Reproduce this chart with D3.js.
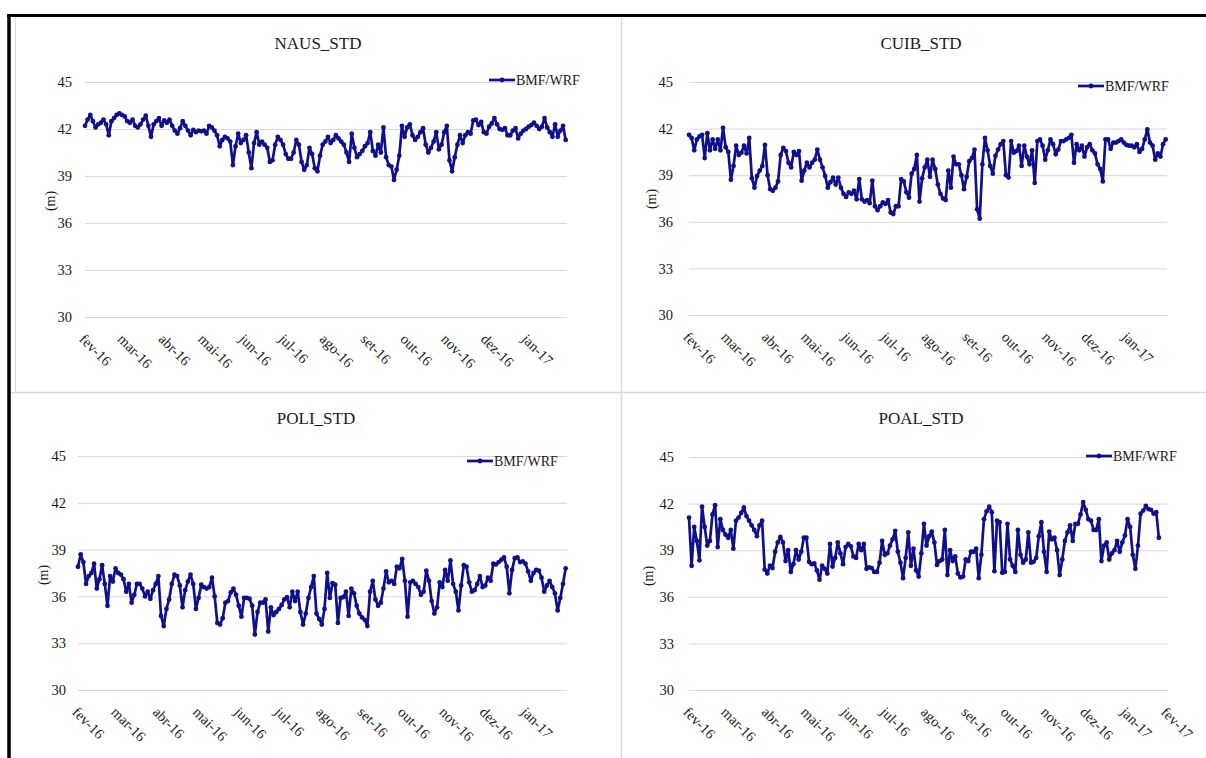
<!DOCTYPE html>
<html>
<head>
<meta charset="utf-8">
<script src="https://cdn.jsdelivr.net/npm/d3@7"></script>
<style>
  body { margin: 0; background: #fff; }
  svg { display: block; }
  text { font-family: "Liberation Serif", "Times New Roman", serif; fill: #1a1a1a; }
</style>
</head>
<body>
<svg id="chart" width="1206" height="758"></svg>
<script>
// Month abbreviations used for the x tick labels (pt-BR)
const monthAbbr = ["jan", "fev", "mar", "abr", "mai", "jun", "jul", "ago", "set", "out", "nov", "dez"];
const yTicks = [30, 33, 36, 39, 42, 45];
const seriesName = "BMF/WRF";
const firstDay = new Date(2016, 1, 1);   // series start, one value every 2 days
const stepDays = 2;

// STD (m) per station
const nausValues = [
  42.2, 42.6, 42.9, 42.5, 42.1, 42.3, 42.4, 42.6, 42.3, 41.6,
  42.5, 42.7, 42.9, 43.0, 42.9, 42.8, 42.5, 42.4, 42.6, 42.2,
  42.1, 42.3, 42.6, 42.85, 42.2, 41.5, 42.3, 42.5, 42.7, 42.2,
  42.55, 42.4, 42.6, 42.2, 41.9, 41.7, 42.05, 42.5, 42.2, 41.9,
  41.6, 41.95, 41.8, 41.9, 41.85, 41.9, 41.7, 42.2, 42.1, 41.9,
  41.6, 40.9, 41.3, 41.5, 41.4, 41.2, 39.7, 40.9, 41.7, 41.1,
  41.3, 41.6, 40.5, 39.5, 41.1, 41.8, 41.0, 41.2, 41.0, 40.8,
  39.9, 40.0, 41.0, 41.5, 41.3, 41.0, 40.4, 40.1, 40.1, 40.5,
  41.3, 41.0, 39.9, 39.4, 39.7, 40.8, 40.4, 39.5, 39.3, 40.3,
  41.0, 41.2, 41.5, 41.1, 41.3, 41.6, 41.4, 41.2, 41.0, 40.5,
  39.9, 41.7, 40.8, 40.2, 40.4, 40.6, 40.9, 41.1, 41.8, 40.6,
  40.3, 41.0, 40.5, 42.1, 40.2, 39.7, 39.6, 38.75, 39.4, 40.3,
  42.2, 41.5, 42.1, 42.3, 41.6, 41.3, 41.5, 41.8, 42.05, 41.0,
  40.5, 40.8, 41.2, 41.8, 40.7, 41.0, 41.8, 42.2, 40.0, 39.3,
  40.2, 41.0, 41.6, 41.1, 41.6, 41.8, 41.7, 42.55, 42.6, 42.25,
  42.45, 41.8, 41.7, 42.15, 42.35, 42.7, 42.3, 42.0, 41.95, 42.05,
  41.6, 41.6, 41.9, 42.05, 41.4, 41.7, 41.9, 42.0, 42.15, 42.25,
  42.4, 42.2, 42.0, 42.15, 42.7, 42.1, 41.8, 41.5, 42.3, 41.5,
  41.9, 42.2, 41.3
];

const cuibValues = [
  41.6, 41.4, 40.6, 41.3, 41.5, 41.6, 40.1, 41.7, 40.6, 41.3,
  40.7, 41.3, 40.6, 42.05, 40.8, 40.5, 38.7, 39.6, 40.9, 40.3,
  40.45, 40.9, 40.4, 41.4, 38.8, 38.2, 38.95, 39.3, 39.6, 40.95,
  39.0, 38.1, 38.0, 38.2, 38.6, 40.3, 40.75, 40.55, 39.8, 39.5,
  40.5, 40.3, 40.55, 38.65, 39.3, 39.8, 39.5, 39.8, 40.0, 40.65,
  40.0, 39.5, 38.95, 38.2, 38.55, 38.85, 38.4, 38.85, 38.2, 37.8,
  37.6, 37.9, 37.8, 38.0, 37.45, 38.75, 37.45, 37.3, 37.4, 37.2,
  38.65, 37.0, 36.75, 37.0, 37.25, 37.15, 37.4, 36.6, 36.5, 37.0,
  37.0, 38.75, 38.6, 37.9, 37.55, 39.1, 39.4, 40.3, 37.3, 38.8,
  39.5, 40.0, 38.9, 40.0, 39.4, 38.4, 37.8, 37.5, 37.4, 39.3,
  38.2, 40.2, 39.7, 39.7, 39.0, 38.1, 38.9, 39.9, 40.1, 40.65,
  36.8, 36.2, 39.7, 41.4, 40.6, 39.6, 39.1, 40.25, 40.65, 41.0,
  41.2, 39.0, 38.85, 41.2, 40.45, 40.55, 40.9, 39.6, 40.9, 40.2,
  39.7, 40.6, 38.5, 41.2, 41.3, 40.9, 40.0, 40.6, 41.3, 41.0,
  40.35, 40.65, 41.2, 41.2, 41.3, 41.4, 41.6, 39.8, 41.0, 40.6,
  40.9, 40.2, 40.8, 41.0, 40.6, 40.4, 39.7, 39.4, 38.6, 41.3,
  41.3, 40.7, 41.1, 41.1, 41.2, 41.3, 41.1, 40.95, 40.9, 40.9,
  40.8, 41.0, 40.5, 40.7, 41.3, 41.95, 41.1, 40.9, 40.0, 40.4,
  40.2, 41.0, 41.3
];

const poliValues = [
  37.9, 38.7, 38.2, 36.8, 37.3, 37.5, 38.1, 36.5, 37.1, 38.0,
  36.8, 35.4, 37.3, 36.95, 37.8, 37.5, 37.4, 37.1, 36.3, 36.8,
  35.6, 36.1, 36.8, 36.8, 36.5, 36.0, 36.3, 35.85, 36.4, 36.8,
  37.3, 34.75, 34.1, 35.2, 35.8, 36.8, 37.4, 37.3, 36.7, 35.3,
  36.4, 36.95, 37.4, 36.8, 35.2, 35.9, 36.75, 36.6, 36.5, 36.6,
  37.2, 36.0, 34.3, 34.2, 34.6, 35.6, 35.7, 36.25, 36.5, 36.1,
  35.4, 34.7, 35.9, 35.9, 35.85, 35.4, 33.55, 35.0, 35.6, 35.6,
  35.8, 33.75, 35.3, 34.8, 35.0, 35.2, 35.45, 35.8, 35.95, 35.3,
  36.3, 35.7, 36.3, 35.0, 34.2, 34.9, 35.9, 36.6, 37.3, 34.9,
  34.55, 34.2, 35.2, 37.5, 35.9, 36.85, 36.75, 34.3, 35.9, 35.95,
  36.3, 34.75, 36.5, 36.2, 35.4, 34.9, 34.65, 34.5, 34.1, 36.3,
  37.0, 35.8, 35.4, 35.6, 36.5, 37.6, 36.9, 37.0, 36.8, 37.9,
  37.8, 38.4, 37.0, 34.7, 36.9, 37.0, 36.8, 36.6, 36.1, 36.3,
  37.65, 37.0, 35.7, 34.9, 35.3, 36.9, 36.6, 37.7, 37.0, 38.3,
  36.8, 36.3, 35.1, 36.7, 38.0, 37.9, 36.9, 36.3, 36.4, 36.8,
  37.3, 36.6, 36.7, 37.2, 37.0, 38.1, 38.05, 38.2, 38.35, 38.5,
  37.9, 36.2, 37.7, 38.45, 38.5, 38.2, 38.25, 38.1, 37.6, 37.0,
  37.5, 37.7, 37.65, 37.2, 36.3, 36.7, 37.0, 36.6, 36.2, 35.1,
  35.9, 36.8, 37.8
];

const poalValues = [
  41.1, 38.0, 40.5, 39.6, 38.35, 41.8, 40.5, 39.3, 39.6, 41.3,
  41.9, 39.2, 41.0, 40.3, 40.0, 39.8, 40.3, 39.1, 40.9, 41.1,
  41.4, 41.75, 41.2, 40.9, 40.6, 40.3, 39.9, 40.6, 40.9, 37.75,
  37.5, 38.0, 37.85, 38.9, 39.5, 39.85, 39.5, 38.3, 39.0, 37.6,
  38.1, 39.0, 38.4, 38.9, 39.8, 39.8, 38.25, 38.1, 38.15, 37.7,
  37.1, 38.0, 37.8, 37.5, 39.4, 37.95, 38.5, 39.5, 38.8, 38.1,
  39.2, 39.4, 39.25, 38.6, 38.5, 39.4, 39.0, 39.4, 37.8, 37.9,
  37.85, 37.6, 37.6, 38.2, 39.6, 38.7, 38.8, 39.3, 39.7, 40.25,
  38.9, 38.2, 37.2, 38.5, 40.15, 38.0, 39.1, 37.7, 37.3, 38.8,
  40.7, 39.3, 39.9, 40.2, 39.5, 38.05, 38.3, 38.4, 40.3, 37.4,
  39.0, 38.3, 38.6, 37.5, 37.25, 37.3, 38.4, 38.3, 38.9, 38.9,
  39.1, 37.2, 38.7, 41.0, 41.5, 41.8, 41.45, 37.65, 40.9, 40.8,
  37.55, 37.6, 40.7, 38.4, 38.0, 37.6, 40.3, 38.7, 38.2, 38.4,
  40.15, 38.2, 38.25, 38.5, 39.9, 40.8, 38.9, 37.6, 40.2, 39.7,
  39.8, 39.0, 37.4, 38.4, 39.6, 40.15, 40.6, 39.6, 40.7, 40.7,
  41.3, 42.1, 41.6, 41.0, 40.9, 40.3, 40.3, 41.0, 38.3, 39.3,
  39.5, 38.4, 38.8, 39.0, 39.6, 38.9, 39.5, 39.95, 41.0, 40.5,
  38.7, 37.8, 39.3, 41.35, 41.55, 41.85, 41.65, 41.6, 41.35, 41.45,
  39.8
];

// Panel layout (plot box, label offsets, title and legend placement)
const panels = [
  { title: "NAUS_STD", values: nausValues, end: new Date(2017, 0, 31),
    x0: 85, x1: 567, y45: 82, y30: 317, pad: 13, tx: 318, ty: 49,
    yTitleX: 50, yTitleY: 201, legX: 489, legY: 80 },
  { title: "CUIB_STD", values: cuibValues, end: new Date(2017, 0, 31),
    x0: 689, x1: 1167, y45: 82, y30: 315, pad: 16, tx: 921, ty: 49,
    yTitleX: 651, yTitleY: 199, legX: 1078, legY: 86 },
  { title: "POLI_STD", values: poliValues, end: new Date(2017, 0, 31),
    x0: 78, x1: 567, y45: 456, y30: 690, pad: 12, tx: 316, ty: 424,
    yTitleX: 43, yTitleY: 575, legX: 467, legY: 461 },
  { title: "POAL_STD", values: poalValues, end: new Date(2017, 1, 2),
    x0: 689, x1: 1168, y45: 457, y30: 690, pad: 15, tx: 921, ty: 424,
    yTitleX: 648, yTitleY: 576, legX: 1086, legY: 456 }
];

const lineColor = "#10108c";
const svg = d3.select("#chart");

svg.append("rect").attr("width", 1206).attr("height", 758).attr("fill", "#fff");

// Chart-area borders
const frame = svg.append("g");
frame.append("line").attr("x1", 15.5).attr("x2", 15.5).attr("y1", 17).attr("y2", 392)
  .attr("stroke", "#d9d9d9").attr("stroke-width", 1);
frame.append("line").attr("x1", 621.5).attr("x2", 621.5).attr("y1", 17).attr("y2", 758)
  .attr("stroke", "#d9d9d9").attr("stroke-width", 1.5);
frame.append("line").attr("x1", 10).attr("x2", 1206).attr("y1", 392.5).attr("y2", 392.5)
  .attr("stroke", "#d9d9d9").attr("stroke-width", 1.5);
frame.append("line").attr("x1", 7).attr("x2", 1206).attr("y1", 15.5).attr("y2", 15.5)
  .attr("stroke", "#000").attr("stroke-width", 3);
frame.append("line").attr("x1", 9).attr("x2", 9).attr("y1", 14).attr("y2", 758)
  .attr("stroke", "#000").attr("stroke-width", 3.5);

const fmtMonth = d => monthAbbr[d.getMonth()] + "-" + String(d.getFullYear()).slice(2);

panels.forEach(p => {
  const g = svg.append("g");
  const series = p.values.map((v, i) => ({ date: d3.timeDay.offset(firstDay, i * stepDays), v }));

  const x = d3.scaleTime().domain([firstDay, p.end]).range([p.x0, p.x1]);
  const y = d3.scaleLinear().domain([30, 45]).range([p.y30, p.y45]);

  // y axis with full-width gridlines
  const yAxis = g.append("g")
    .attr("transform", `translate(${p.x0},0)`)
    .call(d3.axisLeft(y).tickValues(yTicks).tickSize(-(p.x1 - p.x0)).tickPadding(p.pad));
  yAxis.select(".domain").remove();
  yAxis.selectAll(".tick line").attr("stroke", "#d9d9d9").attr("stroke-width", 1);
  yAxis.selectAll(".tick text")
    .style("font-family", '"Liberation Serif", "Times New Roman", serif')
    .style("font-size", "14.5px").attr("fill", "#1a1a1a");

  // x axis: monthly ticks, rotated labels
  const xAxis = g.append("g")
    .attr("transform", `translate(0,${p.y30})`)
    .call(d3.axisBottom(x).ticks(d3.timeMonth.every(1)).tickFormat(fmtMonth).tickSize(0));
  xAxis.select(".domain").remove();
  xAxis.selectAll(".tick text")
    .attr("x", 0).attr("y", 0).attr("dy", 0)
    .attr("text-anchor", "start")
    .attr("transform", "translate(-7,23) rotate(45)")
    .style("font-family", '"Liberation Serif", "Times New Roman", serif')
    .style("font-size", "14.5px").attr("fill", "#1a1a1a");

  // title
  g.append("text").attr("x", p.tx).attr("y", p.ty).attr("text-anchor", "middle")
    .style("font-size", "17px").text(p.title);

  // y axis title
  g.append("text")
    .attr("transform", `translate(${p.yTitleX},${p.yTitleY}) rotate(-90)`)
    .attr("text-anchor", "middle").attr("dy", "0.35em")
    .style("font-size", "14px").text("(m)");

  // series line and markers
  const line = d3.line().x(d => x(d.date)).y(d => y(d.v));
  g.append("path").datum(series)
    .attr("d", line).attr("fill", "none")
    .attr("stroke", lineColor).attr("stroke-width", 2.7).attr("stroke-linejoin", "round");
  g.selectAll(".pt").data(series).join("circle")
    .attr("cx", d => x(d.date)).attr("cy", d => y(d.v)).attr("r", 2.4)
    .attr("fill", lineColor);

  // legend
  const lg = g.append("g").attr("transform", `translate(${p.legX},${p.legY})`);
  lg.append("line").attr("x1", 0).attr("x2", 26).attr("y1", 0).attr("y2", 0)
    .attr("stroke", lineColor).attr("stroke-width", 2.7);
  lg.append("circle").attr("cx", 13).attr("cy", 0).attr("r", 2.4).attr("fill", lineColor);
  lg.append("text").attr("x", 27).attr("y", 0).attr("dy", "0.35em")
    .style("font-size", "14px").text(seriesName);
});
</script>
</body>
</html>
